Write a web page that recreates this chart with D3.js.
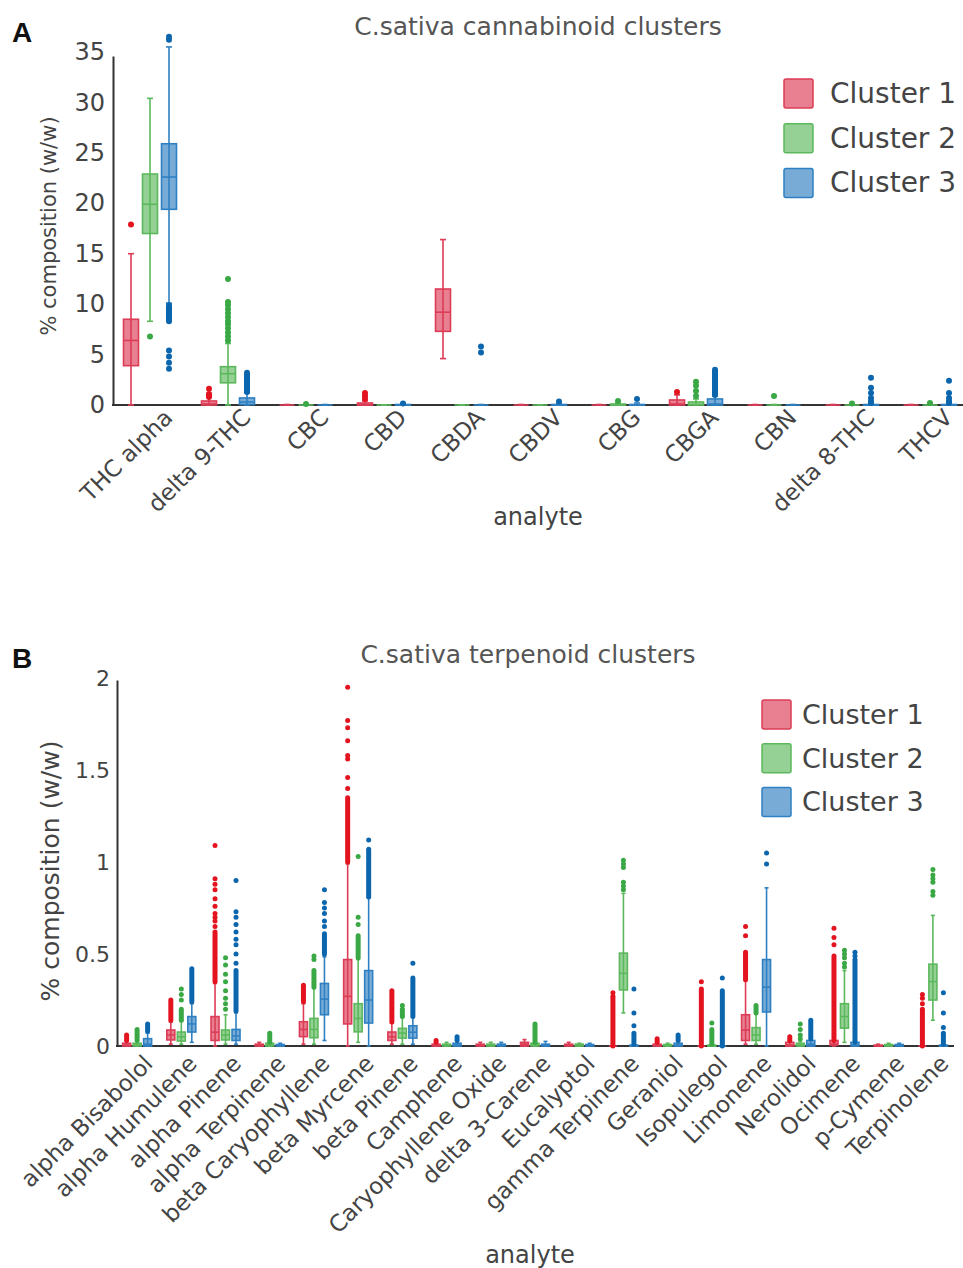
<!DOCTYPE html>
<html>
<head>
<meta charset="utf-8">
<script src="https://cdn.jsdelivr.net/npm/d3@7"></script>
<style>
  body { margin: 0; background: #fff; }
</style>
</head>
<body>
<div id="chart"></div>
<script>
// ---- data ----
const CLUSTERS = ["Cluster 1", "Cluster 2", "Cluster 3"];

const CANNABINOIDS = ["THC alpha", "delta 9-THC", "CBC", "CBD", "CBDA", "CBDV", "CBG", "CBGA", "CBN", "delta 8-THC", "THCV"];
const CANNA_TICKS = [0, 5, 10, 15, 20, 25, 30, 35];

// [low whisker, q1, median, q3, high whisker]
const cannaStats1 = [[0, 3.9, 6.4, 8.5, 15.0], [0, 0, 0.1, 0.4, 0.8], [0, 0, 0, 0, 0.05], [0, 0, 0, 0.2, 0.4], [4.6, 7.3, 9.2, 11.5, 16.4], [0, 0, 0, 0, 0.05], [0, 0, 0, 0, 0.05], [0, 0, 0.1, 0.5, 1.0], [0, 0, 0, 0, 0.05], [0, 0, 0, 0, 0.05], [0, 0, 0, 0, 0.05]];
const cannaStats2 = [[8.3, 17.0, 19.9, 22.9, 30.4], [0, 2.2, 3.1, 3.8, 6.1], [0, 0, 0, 0, 0.05], [0, 0, 0, 0, 0.02], [0, 0, 0, 0, 0.02], [0, 0, 0, 0, 0.02], [0, 0, 0, 0.1, 0.2], [0, 0, 0.05, 0.3, 0.6], [0, 0, 0, 0, 0.05], [0, 0, 0, 0, 0.05], [0, 0, 0, 0, 0.05]];
const cannaStats3 = [[10.1, 19.4, 22.6, 25.9, 35.5], [0, 0.05, 0.3, 0.7, 1.2], [0, 0, 0, 0, 0.05], [0, 0, 0, 0.05, 0.1], [0, 0, 0, 0, 0.05], [0, 0, 0, 0.05, 0.15], [0, 0, 0, 0.05, 0.2], [0, 0, 0.1, 0.6, 0.9], [0, 0, 0, 0, 0.05], [0, 0, 0, 0.05, 0.1], [0, 0, 0, 0.05, 0.1]];

const cannaPoints1 = [[17.9], [1.1, 1.6], [], [0.6, 0.9, 1.2], [], [], [], [1.3], [], [], []];
const cannaPoints2 = [[6.8], [6.4, 6.8, 7.2, 7.6, 8.0, 8.3, 8.7, 9.1, 9.5, 9.9, 10.2, 12.5], [0.1], [], [], [], [0.4], [0.9, 1.4, 1.9, 2.3], [0.9], [0.15], [0.2]];
const cannaPoints3 = [[3.6, 4.2, 4.8, 5.4, 36.2, 36.5], [], [], [0.15], [5.2, 5.8], [0.35], [0.6], [], [], [0.7, 1.2, 1.7, 2.7], [0.7, 1.2, 2.4]];

// dense outlier runs [from, to]
const cannaRuns1 = [[], [[0.8, 1.0]], [], [], [], [], [], [], [], [], []];
const cannaRuns2 = [[], [], [], [], [], [], [], [], [], [], []];
const cannaRuns3 = [[[8.3, 9.9]], [[1.3, 3.2]], [], [], [], [], [], [[1.0, 3.5]], [], [[0.2, 0.4]], [[0.2, 0.4]]];

const TERPENOIDS = ["alpha Bisabolol", "alpha Humulene", "alpha Pinene", "alpha Terpinene", "beta Caryophyllene", "beta Myrcene", "beta Pinene", "Camphene", "Caryophyllene Oxide", "delta 3-Carene", "Eucalyptol", "gamma Terpinene", "Geraniol", "Isopulegol", "Limonene", "Nerolidol", "Ocimene", "p-Cymene", "Terpinolene"];
const TERP_TICKS = [0, 0.5, 1, 1.5, 2];

const terpStats1 = [[0, 0, 0.005, 0.015, 0.03], [0.01, 0.033, 0.06, 0.087, 0.13], [0, 0.03, 0.075, 0.16, 0.34], [0, 0, 0.005, 0.01, 0.02], [0.01, 0.051, 0.09, 0.132, 0.23], [0, 0.12, 0.27, 0.47, 0.99], [0.01, 0.03, 0.05, 0.076, 0.125], [0, 0, 0.005, 0.01, 0.02], [0, 0, 0.005, 0.01, 0.02], [0, 0, 0.01, 0.02, 0.035], [0, 0, 0.005, 0.01, 0.02], [0, 0, 0, 0, 0], [0, 0, 0.005, 0.01, 0.02], [0, 0, 0, 0, 0], [0.01, 0.03, 0.087, 0.17, 0.36], [0, 0, 0.005, 0.02, 0.03], [0, 0.005, 0.01, 0.03, 0.03], [0, 0, 0, 0.005, 0.01], [0, 0, 0, 0, 0]];
const terpStats2 = [[0, 0, 0.005, 0.015, 0.03], [0.01, 0.027, 0.05, 0.076, 0.14], [0.01, 0.033, 0.06, 0.087, 0.17], [0, 0, 0.005, 0.015, 0.02], [0.01, 0.045, 0.09, 0.15, 0.32], [0.02, 0.077, 0.15, 0.23, 0.47], [0.01, 0.043, 0.07, 0.096, 0.16], [0, 0, 0.005, 0.01, 0.02], [0, 0, 0.005, 0.01, 0.02], [0, 0, 0.005, 0.015, 0.02], [0, 0, 0.005, 0.01, 0.015], [0.18, 0.305, 0.395, 0.505, 0.83], [0, 0, 0.003, 0.008, 0.015], [0, 0, 0, 0.005, 0.01], [0.01, 0.03, 0.06, 0.10, 0.18], [0, 0, 0.005, 0.015, 0.025], [0.02, 0.097, 0.16, 0.23, 0.41], [0, 0, 0.003, 0.008, 0.015], [0.14, 0.25, 0.35, 0.445, 0.71]];
const terpStats3 = [[0, 0, 0.01, 0.04, 0.07], [0.02, 0.076, 0.12, 0.16, 0.23], [0.01, 0.03, 0.055, 0.09, 0.18], [0, 0, 0.003, 0.008, 0.015], [0.03, 0.17, 0.255, 0.34, 0.485], [0, 0.125, 0.25, 0.41, 0.81], [0.01, 0.043, 0.075, 0.11, 0.16], [0, 0, 0.005, 0.015, 0.03], [0, 0, 0.005, 0.01, 0.02], [0, 0, 0.005, 0.01, 0.025], [0, 0, 0.003, 0.008, 0.015], [0, 0, 0, 0.005, 0.01], [0, 0, 0.005, 0.015, 0.03], [0, 0, 0, 0, 0], [0, 0.185, 0.32, 0.47, 0.86], [0, 0, 0.01, 0.03, 0.04], [0, 0, 0.005, 0.02, 0.02], [0, 0, 0.003, 0.008, 0.015], [0, 0, 0, 0.005, 0.01]];

const terpPoints1 = [[], [], [0.65, 0.68, 0.70, 0.72, 0.76, 0.80, 0.85, 0.88, 0.91, 1.09], [], [], [1.40, 1.46, 1.56, 1.58, 1.66, 1.73, 1.77, 1.95], [], [], [], [], [], [0.29], [], [0.35], [0.60, 0.65], [], [0.55, 0.59, 0.64], [], [0.23, 0.26, 0.28]];
const terpPoints2 = [[], [0.25, 0.28, 0.31], [0.20, 0.23, 0.26, 0.30, 0.35, 0.39, 0.44, 0.48], [], [0.47, 0.49], [0.66, 0.70, 1.03], [0.22], [], [], [], [], [0.85, 0.87, 0.89, 0.97, 0.99, 1.01], [], [0.125], [], [0.04, 0.06, 0.09, 0.12], [0.43, 0.45, 0.48, 0.50, 0.52], [], [0.82, 0.84, 0.89, 0.91, 0.93, 0.96]];
const terpPoints3 = [[], [], [0.45, 0.50, 0.55, 0.58, 0.62, 0.66, 0.70, 0.73, 0.90], [], [0.65, 0.68, 0.72, 0.75, 0.78, 0.85], [1.12], [0.45], [], [], [], [], [0.11, 0.18, 0.31], [], [0.37], [0.99, 1.05], [], [0.49, 0.51], [], [0.10, 0.18, 0.29]];

const terpRuns1 = [[[0.03, 0.06]], [[0.14, 0.25]], [[0.35, 0.62]], [], [[0.24, 0.33]], [[1.0, 1.35]], [[0.13, 0.30]], [[0.02, 0.03]], [], [], [], [[0, 0.27]], [[0.02, 0.04]], [[0, 0.31]], [[0.36, 0.51]], [[0.03, 0.05]], [[0.03, 0.49]], [], [[0, 0.20]]];
const terpRuns2 = [[[0.03, 0.09]], [[0.14, 0.20]], [], [[0.02, 0.07]], [[0.32, 0.41]], [[0.48, 0.60]], [[0.16, 0.20]], [], [], [[0.02, 0.12]], [], [], [], [[0.01, 0.09]], [[0.18, 0.22]], [], [], [], []];
const terpRuns3 = [[[0.08, 0.12]], [[0.24, 0.42]], [[0.19, 0.41]], [], [[0.50, 0.61]], [[0.81, 1.07]], [[0.16, 0.37]], [[0.03, 0.05]], [], [], [], [[0.01, 0.07]], [[0.03, 0.06]], [[0, 0.30]], [], [[0.04, 0.14]], [[0.02, 0.47]], [], [[0.01, 0.07]]];

// ---- layout ----
const WIDTH = 963;
const HEIGHT = 1268;
const FONT = "'DejaVu Sans', Verdana, sans-serif";
const LINE_COLORS = ["#dc3c56", "#5cb85c", "#2f80c2"];
const DOT_COLORS = ["#e3141f", "#3aa845", "#0b66ae"];
const TEXT_COLOR = "#444";

const SVG = d3.select("#chart").append("svg")
  .attr("width", WIDTH)
  .attr("height", HEIGHT)
  .style("background", "#fff");

function drawPanel(p) {
  const g = SVG.append("g");

  const x = d3.scaleBand().domain(p.analytes).range(p.xRange);
  const offset = d3.scalePoint().domain(CLUSTERS).range([-p.spread, p.spread]);
  const y = d3.scaleLinear().domain([0, p.yMax]).range([p.yZero, p.yTop]);

  // y axis
  const ejeY = d3.axisLeft(y)
    .tickValues(p.ticks)
    .tickFormat(d3.format("~g"))
    .tickSize(0)
    .tickSizeOuter(0)
    .tickPadding(p.tickPad);

  const gy = g.append("g")
    .attr("transform", `translate(${p.axisLeft},0)`)
    .call(ejeY);
  gy.select(".domain").attr("stroke", "#333").attr("stroke-width", 2);
  gy.selectAll("text")
    .attr("font-family", FONT)
    .attr("font-size", p.yTickSize)
    .attr("fill", TEXT_COLOR);

  // x axis (labels only, line drawn separately)
  const gx = g.append("g")
    .attr("transform", `translate(0,${p.yZero})`)
    .call(d3.axisBottom(x).tickSize(0).tickSizeOuter(0));
  gx.select(".domain").remove();
  gx.selectAll("text")
    .attr("x", 0)
    .attr("y", 0)
    .attr("dy", "0")
    .attr("text-anchor", "end")
    .attr("transform", `translate(${p.labelDx},${p.labelDy}) rotate(-45)`)
    .attr("font-family", FONT)
    .attr("font-size", p.xTickSize)
    .attr("fill", TEXT_COLOR);

  g.append("line")
    .attr("x1", p.axisLeft - 1)
    .attr("x2", p.axisRight)
    .attr("y1", p.yZero)
    .attr("y2", p.yZero)
    .attr("stroke", "#333")
    .attr("stroke-width", 2);

  // boxes
  const boxes = [];
  CLUSTERS.forEach((c, ci) => {
    p.analytes.forEach((a, ai) => {
      boxes.push({
        analyte: a,
        ci: ci,
        cx: x(a) + x.bandwidth() / 2 + offset(c),
        s: p.stats[ci][ai],
        pts: p.points[ci][ai],
        runs: p.runs[ci][ai]
      });
    });
  });

  const cajas = g.append("g").selectAll("g.box")
    .data(boxes)
    .join("g")
    .attr("class", "box");

  // whiskers
  cajas.append("line")
    .attr("x1", d => d.cx).attr("x2", d => d.cx)
    .attr("y1", d => y(d.s[0])).attr("y2", d => y(d.s[4]))
    .attr("stroke", d => LINE_COLORS[d.ci])
    .attr("stroke-width", 1.6);

  cajas.selectAll("line.cap")
    .data(d => [d.s[0], d.s[4]].map(v => ({ v: v, cx: d.cx, ci: d.ci })))
    .join("line")
    .attr("class", "cap")
    .attr("x1", d => d.cx - p.capW / 2).attr("x2", d => d.cx + p.capW / 2)
    .attr("y1", d => y(d.v)).attr("y2", d => y(d.v))
    .attr("stroke", d => LINE_COLORS[d.ci])
    .attr("stroke-width", 1.6);

  cajas.append("rect")
    .attr("x", d => d.cx - p.boxW / 2)
    .attr("y", d => y(d.s[3]))
    .attr("width", p.boxW)
    .attr("height", d => Math.max(0, y(d.s[1]) - y(d.s[3])))
    .attr("fill", d => LINE_COLORS[d.ci])
    .attr("fill-opacity", 0.65)
    .attr("stroke", d => LINE_COLORS[d.ci])
    .attr("stroke-width", 1.6);

  cajas.append("line")
    .attr("x1", d => d.cx - p.boxW / 2).attr("x2", d => d.cx + p.boxW / 2)
    .attr("y1", d => y(d.s[2])).attr("y2", d => y(d.s[2]))
    .attr("stroke", d => LINE_COLORS[d.ci])
    .attr("stroke-width", 1.6);

  // dense outlier runs
  cajas.selectAll("line.run")
    .data(d => d.runs.map(r => ({ r: r, cx: d.cx, ci: d.ci })))
    .join("line")
    .attr("class", "run")
    .attr("x1", d => d.cx).attr("x2", d => d.cx)
    .attr("y1", d => y(d.r[0])).attr("y2", d => y(d.r[1]))
    .attr("stroke", d => DOT_COLORS[d.ci])
    .attr("stroke-width", p.r * 2)
    .attr("stroke-linecap", "round");

  // outlier points
  cajas.selectAll("circle")
    .data(d => d.pts.map(v => ({ v: v, cx: d.cx, ci: d.ci })))
    .join("circle")
    .attr("cx", d => d.cx)
    .attr("cy", d => y(d.v))
    .attr("r", p.r)
    .attr("fill", d => DOT_COLORS[d.ci]);

  // titles
  g.append("text")
    .attr("x", p.titleX).attr("y", p.titleY)
    .attr("text-anchor", "middle")
    .attr("font-family", FONT)
    .attr("font-size", p.titleSize)
    .attr("fill", "#555")
    .text(p.title);

  g.append("text")
    .attr("x", 12).attr("y", p.letterY)
    .attr("font-family", "'Liberation Sans', Arial, sans-serif")
    .attr("font-weight", "bold")
    .attr("font-size", 28)
    .attr("fill", "#111")
    .text(p.letter);

  g.append("text")
    .attr("transform", `translate(${p.yTitleX},${p.yTitleY}) rotate(-90)`)
    .attr("text-anchor", "middle")
    .attr("dominant-baseline", "central")
    .attr("font-family", FONT)
    .attr("font-size", p.yTitleSize)
    .attr("fill", TEXT_COLOR)
    .text("% composition (w/w)");

  g.append("text")
    .attr("x", p.xTitleX).attr("y", p.xTitleY)
    .attr("text-anchor", "middle")
    .attr("font-family", FONT)
    .attr("font-size", 24)
    .attr("fill", TEXT_COLOR)
    .text("analyte");

  // legend
  const leyenda = g.append("g")
    .attr("transform", `translate(${p.legendX},${p.legendY})`)
    .selectAll("g")
    .data(CLUSTERS)
    .join("g")
    .attr("transform", (d, i) => `translate(0,${i * p.legendStep})`);

  leyenda.append("rect")
    .attr("x", 0).attr("y", -14.5)
    .attr("width", 29).attr("height", 29)
    .attr("rx", 2)
    .attr("fill", (d, i) => LINE_COLORS[i])
    .attr("fill-opacity", 0.65)
    .attr("stroke", (d, i) => LINE_COLORS[i])
    .attr("stroke-width", 1.5);

  leyenda.append("text")
    .attr("x", p.legendTextDx).attr("y", 0)
    .attr("dominant-baseline", "central")
    .attr("font-family", FONT)
    .attr("font-size", p.legendSize)
    .attr("fill", TEXT_COLOR)
    .text(d => d);
}

drawPanel({
  analytes: CANNABINOIDS,
  stats: [cannaStats1, cannaStats2, cannaStats3],
  points: [cannaPoints1, cannaPoints2, cannaPoints3],
  runs: [cannaRuns1, cannaRuns2, cannaRuns3],
  ticks: CANNA_TICKS,
  yMax: 34.6, yZero: 405, yTop: 56,
  xRange: [111, 969], axisLeft: 113, axisRight: 963,
  spread: 19, boxW: 15, capW: 6, r: 3,
  tickPad: 8, yTickSize: 24, xTickSize: 23, labelDx: 24, labelDy: 14,
  title: "C.sativa cannabinoid clusters", titleX: 538, titleY: 35, titleSize: 25,
  letter: "A", letterY: 42,
  yTitleX: 49, yTitleY: 226, yTitleSize: 21,
  xTitleX: 538, xTitleY: 525,
  legendX: 784, legendY: 93.5, legendStep: 44.7, legendSize: 28, legendTextDx: 46
});

drawPanel({
  analytes: TERPENOIDS,
  stats: [terpStats1, terpStats2, terpStats3],
  points: [terpPoints1, terpPoints2, terpPoints3],
  runs: [terpRuns1, terpRuns2, terpRuns3],
  ticks: TERP_TICKS,
  yMax: 1.99, yZero: 1046, yTop: 680,
  xRange: [115, 955], axisLeft: 117, axisRight: 954,
  spread: 10.5, boxW: 8, capW: 4, r: 2.5,
  tickPad: 7, yTickSize: 22, xTickSize: 23, labelDx: 17, labelDy: 19,
  title: "C.sativa terpenoid clusters", titleX: 528, titleY: 663, titleSize: 25,
  letter: "B", letterY: 668,
  yTitleX: 50, yTitleY: 871, yTitleSize: 25,
  xTitleX: 530, xTitleY: 1263,
  legendX: 762, legendY: 714.5, legendStep: 43.7, legendSize: 27, legendTextDx: 40
});
</script>
</body>
</html>
